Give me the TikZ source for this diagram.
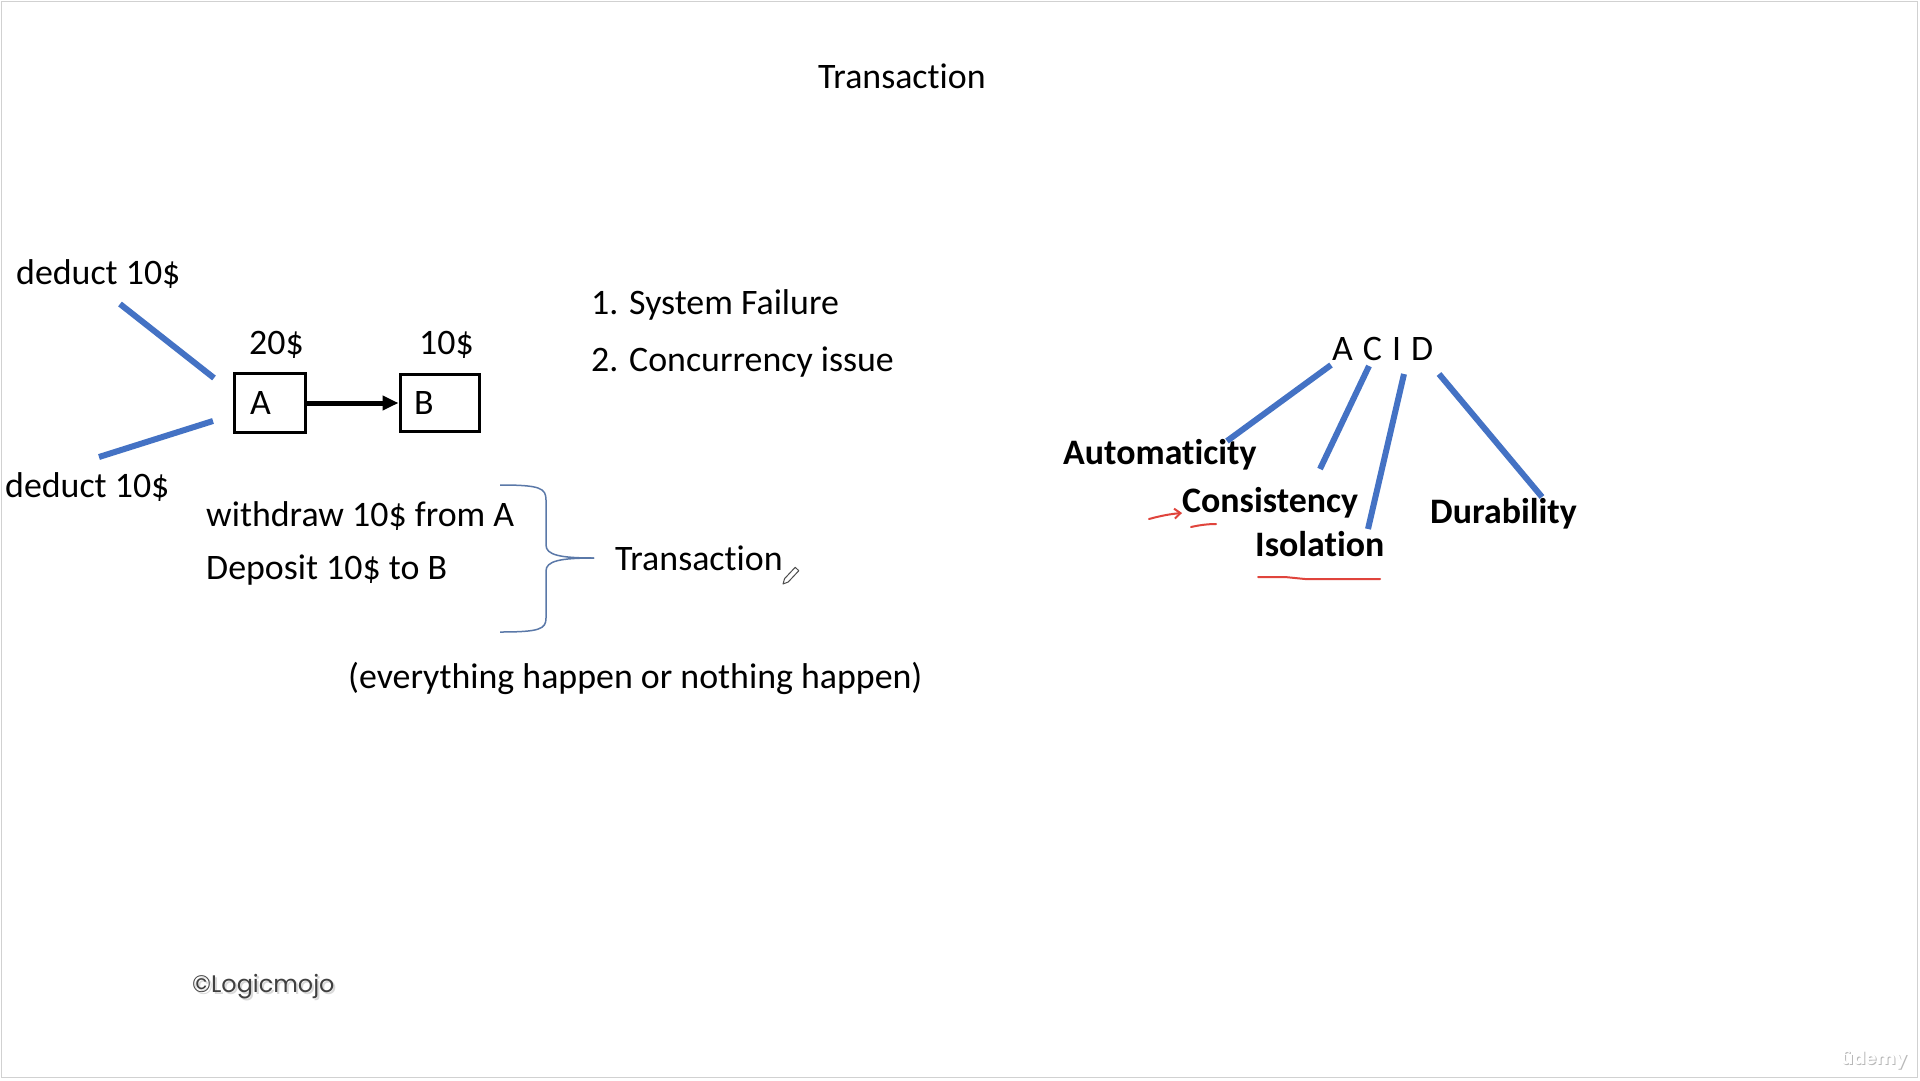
\documentclass[tikz,border=0pt]{standalone}
\usepackage{fontspec}
\setmainfont{Carlito}[Ligatures=NoCommon,Contextuals=NoAlternate]
\newfontfamily\logofont{Poppins}
\usetikzlibrary{arrows.meta}
\definecolor{officeblue}{HTML}{4472C4}
\definecolor{bracecol}{HTML}{5A78A8}
\definecolor{inkred}{HTML}{E0443C}
\begin{document}
\begin{tikzpicture}[x=1bp,y=-1bp,
  txt/.style={inner sep=0pt, anchor=base west, font=\fontsize{36}{43}\selectfont},
  btxt/.style={inner sep=0pt, anchor=base west, font=\fontsize{36}{43}\selectfont\bfseries},
  blueline/.style={officeblue, line width=6bp},
  box/.style={draw=black, line width=3bp, inner sep=0pt},
  redink/.style={inkred, line width=2bp, line cap=round, line join=round},
  bracestyle/.style={bracecol, line width=1.5bp}]
\fill[white] (0,0) rectangle (1920,1080);
\useasboundingbox (0,0) rectangle (1920,1080);
\draw[black!18, line width=1.5bp] (1.5,1.5) rectangle (1917.5,1077.5);

% title
\node[txt] (title) at (818,88) {Transaction};

% accounts
\node[txt] (ded1) at (16,284) {deduct 10\$};
\node[txt] (ded2) at (5,497) {deduct 10\$};
\node[box, minimum width=71bp, minimum height=59bp] (A) at (269.5,403) {};
\node[box, minimum width=79bp, minimum height=57bp] (B) at (439.5,403) {};
\node[txt] (Alab) at (250,414) {A};
\node[txt] (Blab) at (414,414) {B};
\node[txt] (amtA) at (249,354) {20\$};
\node[txt] (amtB) at (419,354) {10\$};
\draw[line width=5bp, -{Triangle[length=16bp,width=14bp]}] (A.east) -- (B.west);
\coordinate (l1a) at (120,304); \coordinate (l1b) at (214,378);
\coordinate (l2a) at (99,457);  \coordinate (l2b) at (213,421);
\draw[blueline] (l1a) -- (l1b);
\draw[blueline] (l2a) -- (l2b);

% problems
\node[txt] (sf) at (591,314) {1. System Failure};
\node[txt] (ci) at (591,371) {2. Concurrency issue};

% transaction brace
\node[txt] (wd) at (206,526) {withdraw 10\$ from A};
\node[txt] (dp) at (206,579) {Deposit 10\$ to B};
\coordinate (btop) at (500,485);
\coordinate (btip) at (594,558);
\coordinate (bbot) at (500,632);
\draw[bracestyle] (btop) .. controls (540,485) and (546,488) .. (546,500) -- (546,545)
  .. controls (546,555) and (560,558) .. (btip);
\draw[bracestyle] (btip) .. controls (560,558) and (546,561) .. (546,571) -- (546,618)
  .. controls (546,629) and (540,632) .. (bbot);
\node[txt] (tr) at (615,570) {Transaction};
\draw[black!70, line width=1bp, line join=round] (783,584) -- (784.6,578.6) -- (795.2,567.3) -- (798.8,570.7) -- (788.2,582.0) -- cycle;
\node[txt] (ev) at (348,688) {(everything happen or nothing happen)};

% ACID
\node[txt] (acid) at (1332,360) {A\hspace{10bp}C\hspace{10bp}I\hspace{10bp}D};
\node[btxt] (aut) at (1063,464) {Automaticity};
\node[btxt] (con) at (1182,512) {Consistency};
\node[btxt] (iso) at (1255,556) {Isolation};
\node[btxt] (dur) at (1430,523) {Durability};
\coordinate (a1) at (1331,365); \coordinate (a2) at (1227,441);
\coordinate (c1) at (1369,366); \coordinate (c2) at (1320,469);
\coordinate (i1) at (1404,374); \coordinate (i2) at (1368,529);
\coordinate (d1) at (1439,374); \coordinate (d2) at (1542,497);
\draw[blueline] (a1) -- (a2);
\draw[blueline] (c1) -- (c2);
\draw[blueline] (i1) -- (i2);
\draw[blueline] (d1) -- (d2);

% red ink marks
\coordinate (r1) at (1149,519); \coordinate (r2) at (1182,513);
\draw[redink, -{Straight Barb[length=6bp,width=10bp]}] (r1) .. controls (1160,516) and (1170,514) .. (r2);
\coordinate (r3) at (1191,527); \coordinate (r4) at (1216,524);
\draw[redink] (r3) .. controls (1200,525) and (1208,524) .. (r4);
\coordinate (r5) at (1258,577); \coordinate (r6) at (1380,579);
\draw[redink] (r5) -- (1285,577) .. controls (1295,578) .. (1305,579) -- (r6);

% footer
\node[inner sep=0pt, anchor=base west, font=\logofont\fontsize{24}{28}\selectfont, text=black!15] at (194,994) {©Logicmojo};
\node[inner sep=0pt, anchor=base west, font=\logofont\fontsize{24}{28}\selectfont, text=black!75] (logo) at (192,992) {©Logicmojo};
\node[inner sep=0pt, anchor=base west, font=\logofont\bfseries\fontsize{18}{22}\selectfont, text=black!28] at (1842,1065) {ûdemy};
\node[inner sep=0pt, anchor=base west, font=\logofont\bfseries\fontsize{18}{22}\selectfont, text=white] (udemy) at (1841,1064) {ûdemy};
\end{tikzpicture}
\end{document}
